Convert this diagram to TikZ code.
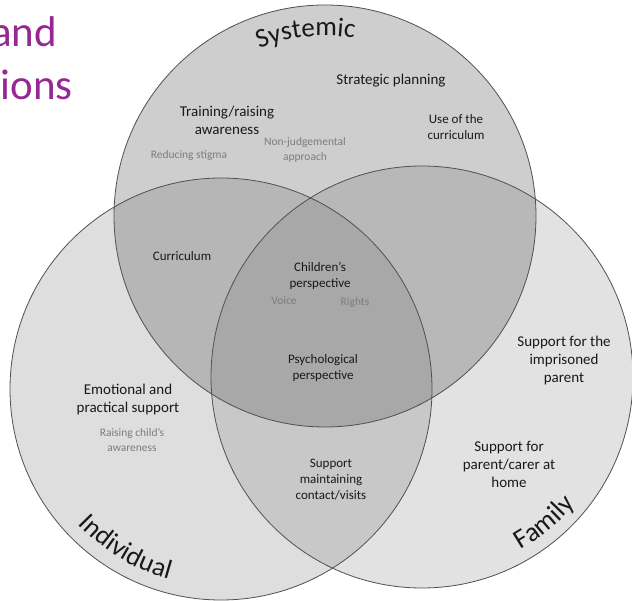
\documentclass[tikz,border=0pt]{standalone}
\usepackage{fontspec}
\setmainfont{Carlito}
\usetikzlibrary{decorations.text}
\definecolor{titlepurple}{RGB}{150,40,148}
\definecolor{onlyT}{RGB}{206,206,206}
\definecolor{onlyL}{RGB}{222,222,222}
\definecolor{onlyR}{RGB}{226,226,226}
\definecolor{TL}{RGB}{182,182,182}
\definecolor{TR}{RGB}{184,184,184}
\definecolor{LR}{RGB}{200,200,200}
\definecolor{TLR}{RGB}{168,168,168}
\definecolor{edge}{RGB}{80,80,80}
\definecolor{subgray}{RGB}{125,125,125}
\begin{document}
\begin{tikzpicture}[x=1pt,y=-1pt,
  lblbig/.style={align=center,text=black!90,font=\fontsize{15}{18}\selectfont,inner sep=0pt},
  lblmid/.style={align=center,text=black!90,font=\fontsize{13}{16}\selectfont,inner sep=0pt},
  lblsub/.style={align=center,text=subgray,font=\fontsize{11.5}{14.5}\selectfont,inner sep=0pt},
  setname/.style={decorate,decoration={text along path,text align=center,text color=black!90}},
  titletext/.style={text=titlepurple,font=\fontsize{43}{50}\selectfont,inner sep=0pt,anchor=base east}]
\useasboundingbox (0,0) rectangle (632,601);
\fill[white] (0,0) rectangle (632,601);

% circle centres and radius
\coordinate (cT) at (325,216);
\coordinate (cL) at (221,389);
\coordinate (cR) at (422,377);
\def\rad{211pt}

% single regions
\fill[onlyL] (cL) circle (\rad);
\fill[onlyR] (cR) circle (\rad);
\fill[onlyT] (cT) circle (\rad);
% pairwise overlaps
\begin{scope}
  \clip (cL) circle (\rad);
  \fill[LR] (cR) circle (\rad);
\end{scope}
\begin{scope}
  \clip (cT) circle (\rad);
  \fill[TL] (cL) circle (\rad);
\end{scope}
\begin{scope}
  \clip (cT) circle (\rad);
  \fill[TR] (cR) circle (\rad);
\end{scope}
% triple overlap
\begin{scope}
  \clip (cT) circle (\rad);
  \clip (cL) circle (\rad);
  \fill[TLR] (cR) circle (\rad);
\end{scope}
% outlines
\draw[edge,line width=0.8pt] (cT) circle (\rad);
\draw[edge,line width=0.8pt] (cL) circle (\rad);
\draw[edge,line width=0.8pt] (cR) circle (\rad);

% slide title fragment
\node[titletext] (title1) at (57,47) {and};
\node[titletext] (title2) at (73,100) {ions};

% set names, set along arcs inside each circle
\path[setname,decoration={text={|\fontsize{27}{30}\selectfont|Systemic}}]
  (cT) ++(-131:180) arc[start angle=-131,end angle=-61,radius=180];
\path[setname,decoration={text={|\fontsize{27}{30}\selectfont|Individual}}]
  (cL) ++(152:197) arc[start angle=152,end angle=90,radius=197];
\path[setname,decoration={text={|\fontsize{27}{30}\selectfont|Family}}]
  (cR) ++(76:199) arc[start angle=76,end angle=24,radius=199];

% systemic only
\node[lblbig] (strat) at (391,81) {Strategic planning};
\node[lblmid] (usecur) at (456,127) {Use of the\\curriculum};
\node[lblbig] (train) at (227,120) {Training/raising\\awareness};
\node[lblsub] (stigma) at (189,155) {Reducing stigma};
\node[lblsub] (nonjudge) at (305,150) {Non-judgemental\\approach};

% overlaps
\node[lblmid] (curric) at (182,256) {Curriculum};
\node[lblmid] (children) at (320,276) {Children’s\\perspective};
\node[lblsub] (voice) at (284,301) {Voice};
\node[lblsub] (rights) at (355,302) {Rights};
\node[lblmid] (psych) at (323,368) {Psychological\\perspective};
\node[lblmid] (contact) at (331,480) {Support\\maintaining\\contact/visits};

% individual only
\node[lblbig] (emot) at (128,400) {Emotional and\\practical support};
\node[lblsub] (raising) at (132,440) {Raising child’s\\awareness};

% family only
\node[lblbig] (imprison) at (564,361) {Support for the\\imprisoned\\parent};
\node[lblbig] (carer) at (509,464) {Support for\\parent/carer at\\home};
\end{tikzpicture}
\end{document}
